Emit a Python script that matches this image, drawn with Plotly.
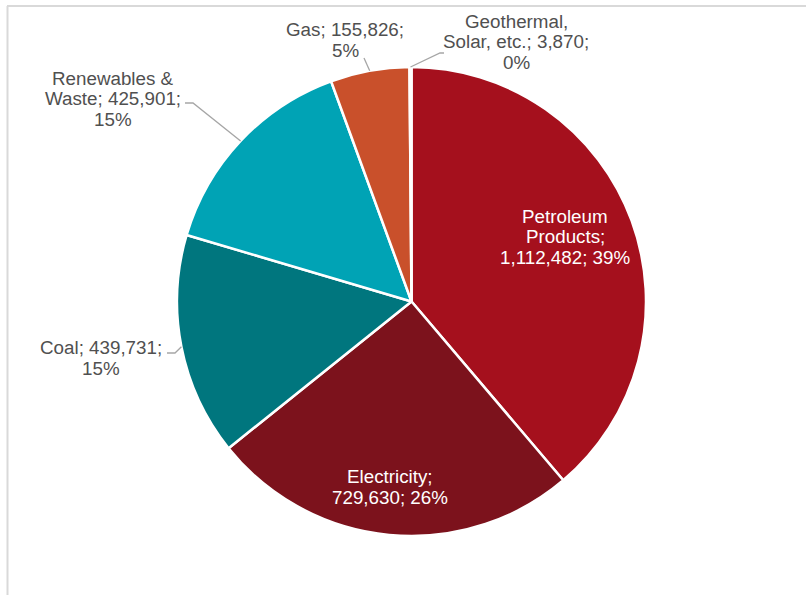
import math
import plotly.graph_objects as go

# ---- data ----
categories = ["Petroleum Products", "Electricity", "Coal", "Renewables & Waste", "Gas", "Geothermal, Solar, etc."]
values = [1112482, 729630, 439731, 425901, 155826, 3870]
pct_labels = ["39%", "26%", "15%", "15%", "5%", "0%"]

# ---- styles / layout ----
W, H = 806, 595
colors = ["#A5101D", "#7C121C", "#00767E", "#00A3B5", "#C9502B", "#E07B6A"]
label_templates = [
    "Petroleum<br>Products;<br>{v}; {p}",
    "Electricity;<br>{v}; {p}",
    "Coal; {v};<br>{p}",
    "Renewables &<br>Waste; {v};<br>{p}",
    "Gas; {v};<br>{p}",
    "Geothermal,<br>Solar, etc.; {v};<br>{p}",
]
inside = [True, True, False, False, False, False]
label_centers = [(565, 237), (390, 487), (101, 358), (113, 99), (345, 40), (516, 42)]
# leader line points on the label side (elbow then end), pixels
leader_pts = [None, None, [(175, 353), (167, 353)], [(193, 103), (185, 103)],
              [(364, 58)], [(440, 53), (444, 53)]]
LINE_H = 20.5
FONT = "Liberation Sans, Arial, sans-serif"
FS = 18.8
PIE_CX, PIE_CY, PIE_R = 411.5, 301.5, 234.5


def px2paper(x, y):
    return x / W, 1 - y / H


fig = go.Figure()
fig.add_trace(go.Pie(
    labels=categories, values=values, sort=False, direction="clockwise", rotation=0,
    marker=dict(colors=colors, line=dict(color="white", width=2.5)),
    textinfo="none", showlegend=False,
    domain=dict(x=[(PIE_CX - PIE_R) / W, (PIE_CX + PIE_R) / W],
                y=[1 - (PIE_CY + PIE_R) / H, 1 - (PIE_CY - PIE_R) / H]),
))

annotations = []
shapes = []
total = sum(values)
cum = 0
for i, v in enumerate(values):
    text = label_templates[i].format(v=f"{v:,}", p=pct_labels[i])
    lines = text.split("<br>")
    cx, cy = label_centers[i]
    n = len(lines)
    for k, line in enumerate(lines):
        ly = cy + (k - (n - 1) / 2) * LINE_H
        px, py = px2paper(cx, ly)
        annotations.append(dict(
            x=px, y=py, xref="paper", yref="paper", text=line, showarrow=False,
            xanchor="center", yanchor="middle",
            font=dict(family=FONT, size=FS, color="white" if inside[i] else "#505050"),
        ))
    theta = 2 * math.pi * (cum + v / 2) / total
    cum += v
    if leader_pts[i]:
        ex = PIE_CX + PIE_R * math.sin(theta)
        ey = PIE_CY - PIE_R * math.cos(theta)
        pts = [(ex, ey)] + leader_pts[i]
        path = "M " + " L ".join(f"{px2paper(a, b)[0]:.5f},{px2paper(a, b)[1]:.5f}" for a, b in pts)
        shapes.append(dict(type="path", path=path, xref="paper", yref="paper",
                           line=dict(color="#A6A6A6", width=1.3)))

# chart frame (top and left edges visible)
shapes.append(dict(type="line", xref="paper", yref="paper",
                   x0=7 / W, x1=1, y0=1 - 6 / H, y1=1 - 6 / H,
                   line=dict(color="#D9D9D9", width=2)))
shapes.append(dict(type="line", xref="paper", yref="paper",
                   x0=7.5 / W, x1=7.5 / W, y0=0, y1=1 - 6 / H,
                   line=dict(color="#D9D9D9", width=2)))

fig.update_layout(
    width=W, height=H, margin=dict(l=0, r=0, t=0, b=0),
    paper_bgcolor="white", plot_bgcolor="white",
    annotations=annotations, shapes=shapes,
)
fig.write_html("out.html")
